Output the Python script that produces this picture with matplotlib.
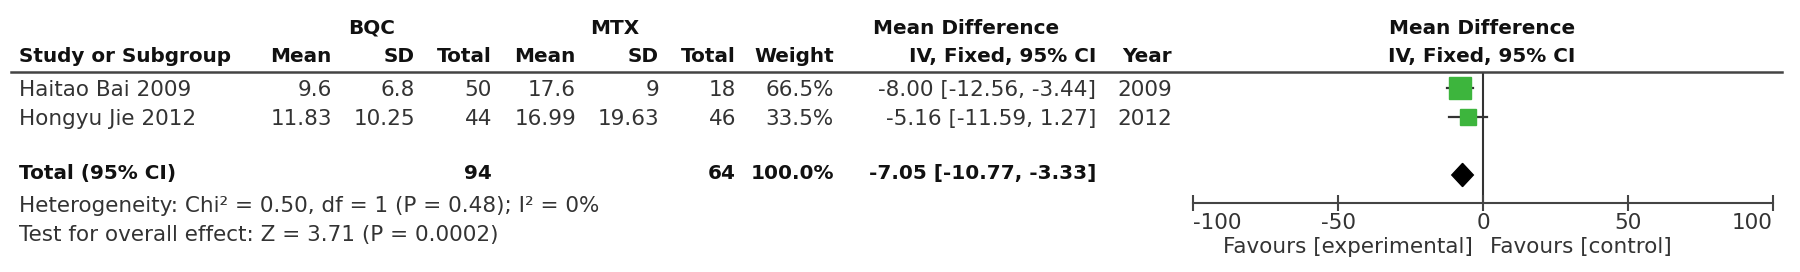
import matplotlib
matplotlib.use("Agg")
import matplotlib.pyplot as plt
from matplotlib.lines import Line2D
import numpy as np

# study data (BQC = experimental, MTX = control)
studies  = ["Haitao Bai 2009", "Hongyu Jie 2012"]
bqc_mean = [9.6, 11.83]
bqc_sd   = [6.8, 10.25]
bqc_n    = [50, 44]
mtx_mean = [17.6, 16.99]
mtx_sd   = [9, 19.63]
mtx_n    = [18, 46]
weights  = [66.5, 33.5]
md       = [-8.00, -5.16]
ci_lo    = [-12.56, -11.59]
ci_hi    = [-3.44, 1.27]
years    = [2009, 2012]

total_bqc = 94
total_mtx = 64
total_weight = 100.0
total_md = -7.05
total_lo = -10.77
total_hi = -3.33

het_text  = "Heterogeneity: Chi² = 0.50, df = 1 (P = 0.48); I² = 0%"
test_text = "Test for overall effect: Z = 3.71 (P = 0.0002)"

xticks = [-100, -50, 0, 50, 100]
fav_left  = "Favours [experimental]"
fav_right = "Favours [control]"

W, H = 1800, 272
FS = 15.5     # regular text
FSB = 14.4    # bold text
TXT = "#333333"
BLD = "#111111"
GREEN = "#3db53d"

fig = plt.figure(figsize=(W / 100, H / 100), dpi=100)


def put(x, y, s, ha="left", bold=False, **kw):
    fig.text(x / W, 1 - y / H, s, ha=ha, va="baseline",
             fontsize=FSB if bold else FS,
             fontweight="bold" if bold else "normal",
             color=BLD if bold else TXT, **kw)


# column right edges (pixels)
col_x = [332, 415, 492, 576, 659, 736, 834, 1096, 1172]

# headers
put(372, 34, "BQC", ha="center", bold=True)
put(615, 34, "MTX", ha="center", bold=True)
put(966, 34, "Mean Difference", ha="center", bold=True)
put(1482, 34, "Mean Difference", ha="center", bold=True)
put(19, 62, "Study or Subgroup", bold=True)
for x, s in zip(col_x, ["Mean", "SD", "Total", "Mean", "SD", "Total", "Weight",
                        "IV, Fixed, 95% CI", "Year"]):
    put(x, 62, s, ha="right", bold=True)
put(1482, 62, "IV, Fixed, 95% CI", ha="center", bold=True)

fig.add_artist(Line2D([11 / W, 1782 / W], [1 - 71.5 / H] * 2, color="#444444", lw=1.8))

# study rows
row_base = [96, 125]
for i, name in enumerate(studies):
    y = row_base[i]
    put(19, y, name)
    vals = [f"{bqc_mean[i]:g}", f"{bqc_sd[i]:g}", f"{bqc_n[i]}",
            f"{mtx_mean[i]:g}", f"{mtx_sd[i]:g}", f"{mtx_n[i]}",
            f"{weights[i]:.1f}%",
            f"{md[i]:.2f} [{ci_lo[i]:.2f}, {ci_hi[i]:.2f}]", f"{years[i]}"]
    for x, s in zip(col_x, vals):
        put(x, y, s, ha="right")

# total row
put(19, 179, "Total (95% CI)", bold=True)
put(col_x[2], 179, f"{total_bqc}", ha="right", bold=True)
put(col_x[5], 179, f"{total_mtx}", ha="right", bold=True)
put(col_x[6], 179, f"{total_weight:.1f}%", ha="right", bold=True)
put(col_x[7], 179, f"{total_md:.2f} [{total_lo:.2f}, {total_hi:.2f}]", ha="right", bold=True)
put(19, 212, het_text)
put(19, 241, test_text)

# forest plot
top, bot = 72, 203
ax = fig.add_axes([1193 / W, 1 - bot / H, 580 / W, (bot - top) / H])
row_pos = [0, 1]
total_pos = 3
ax.set_xlim(-100, 100)
ax.set_ylim((bot - 88) / 29, (top - 88) / 29)

for i in range(len(studies)):
    ax.plot([ci_lo[i], ci_hi[i]], [row_pos[i]] * 2, color="#333333", lw=1.6, zorder=2)
    ax.plot(md[i], row_pos[i], marker="s", ms=2.0 * np.sqrt(weights[i]),
            color=GREEN, mec=GREEN, zorder=3)

ax.fill([total_lo, total_md, total_hi, total_md],
        [total_pos, total_pos - 0.4, total_pos, total_pos + 0.4],
        color="black", zorder=3)
ax.axvline(0, color="#333333", lw=1.5, zorder=1)

for s in ["top", "left", "right"]:
    ax.spines[s].set_visible(False)
ax.spines["bottom"].set_color("#444444")
ax.spines["bottom"].set_linewidth(1.5)
ax.set_yticks([])
ax.set_xticks(xticks)
ax.set_xticklabels([str(t) for t in xticks])
ax.tick_params(axis="x", direction="inout", length=12, width=1.5, color="#444444",
               labelsize=FS, labelcolor=TXT, pad=1.5)
labels = ax.get_xticklabels()
labels[0].set_ha("left")
labels[-1].set_ha("right")
ax.patch.set_alpha(0)

put(1473, 253, fav_left, ha="right")
put(1490, 253, fav_right, ha="left")

fig.savefig("out.png", dpi=100, facecolor="white")
